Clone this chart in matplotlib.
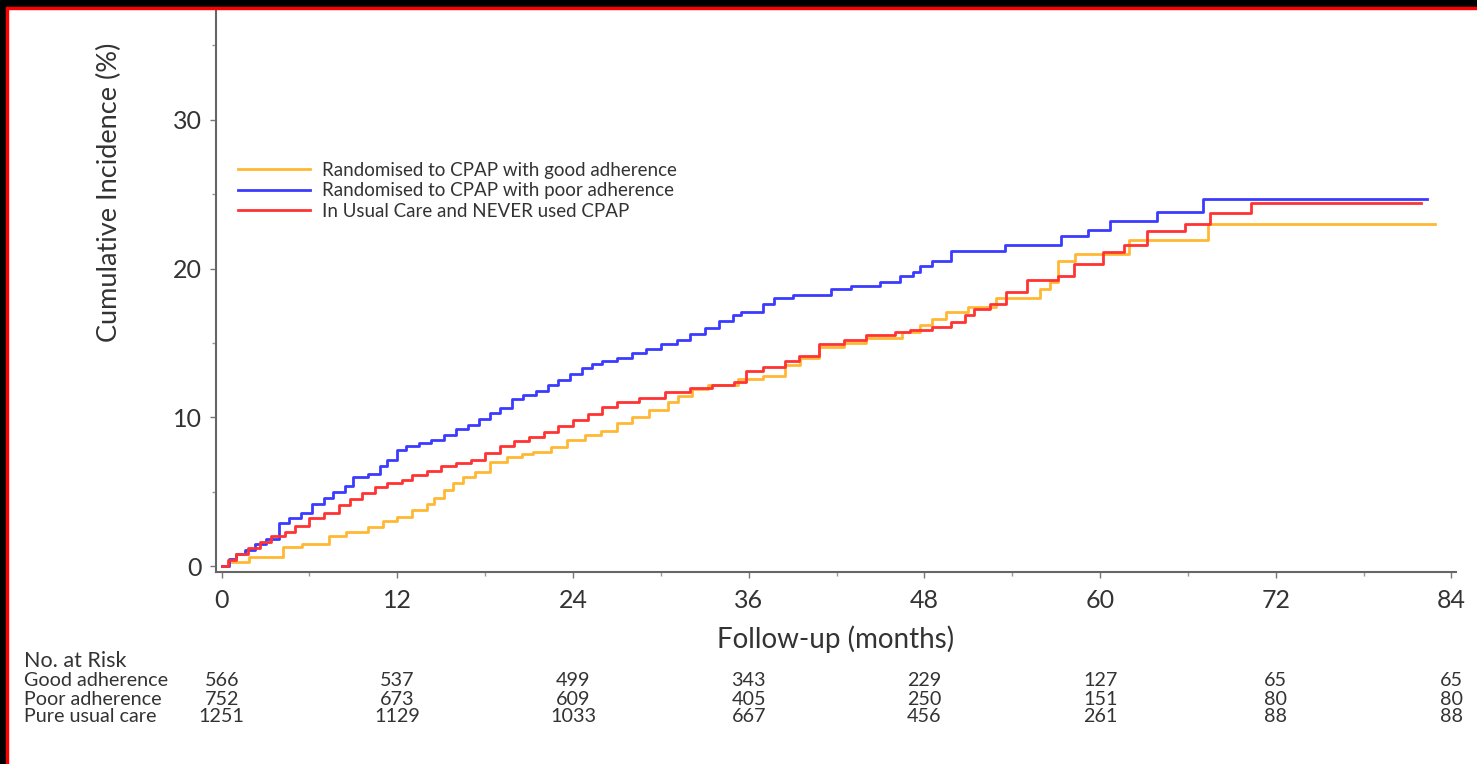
import matplotlib
matplotlib.use("Agg")
import matplotlib.pyplot as plt
from matplotlib.patches import Rectangle

plt.rcParams['font.family'] = ['Lato', 'DejaVu Sans']

# cumulative incidence curves (months, %)
good_t = [0, 0.5, 1.9, 4.2, 5.5, 7.3, 8.5, 10.0, 11.0, 12.0, 13.0, 14.0, 14.5, 15.2, 15.8,
          16.5, 17.3, 18.3, 19.5, 20.5, 21.3, 22.5, 23.6, 24.8, 25.9, 27.0, 28.0, 29.2, 30.5,
          31.2, 32.1, 33.2, 35.3, 37.0, 38.5, 39.5, 40.8, 42.5, 44.0, 46.5, 47.7, 48.5, 49.5,
          51.0, 52.9, 55.9, 56.6, 57.1, 58.3, 62.0, 67.4, 82.9]
good_y = [0, 0.3, 0.6, 1.3, 1.5, 2.0, 2.3, 2.6, 3.0, 3.3, 3.8, 4.2, 4.6, 5.1, 5.6,
          6.0, 6.3, 7.0, 7.3, 7.5, 7.7, 8.0, 8.5, 8.8, 9.1, 9.6, 10.0, 10.5, 11.0,
          11.4, 11.9, 12.2, 12.6, 12.8, 13.5, 14.0, 14.7, 15.0, 15.3, 15.7, 16.2, 16.6, 17.1,
          17.4, 18.0, 18.6, 19.1, 20.5, 21.0, 21.9, 23.0, 23.0]

poor_t = [0, 0.5, 1, 1.6, 2.3, 3.0, 3.9, 4.6, 5.4, 6.2, 7.0, 7.6, 8.4, 9.0, 10.0, 10.8,
          11.3, 12.0, 12.6, 13.5, 14.3, 15.2, 16.0, 16.8, 17.6, 18.3, 19.0, 19.8, 20.6, 21.5,
          22.3, 23.0, 23.8, 24.6, 25.3, 26.0, 27.0, 28.0, 29.0, 30.0, 31.1, 32.0, 33.0, 34.0,
          34.9, 35.5, 37.0, 37.7, 39.0, 41.6, 43.0, 45.0, 46.3, 47.2, 47.7, 48.5, 49.8, 53.5,
          57.3, 59.2, 60.7, 63.9, 67.0, 82.3]
poor_y = [0, 0.5, 0.8, 1.1, 1.5, 1.8, 2.9, 3.2, 3.6, 4.2, 4.6, 5.0, 5.4, 6.0, 6.2, 6.7,
          7.1, 7.8, 8.1, 8.3, 8.5, 8.8, 9.2, 9.5, 9.9, 10.3, 10.6, 11.2, 11.5, 11.8,
          12.2, 12.5, 12.9, 13.3, 13.6, 13.8, 14.0, 14.3, 14.6, 14.9, 15.2, 15.6, 16.0, 16.5,
          16.9, 17.1, 17.6, 18.0, 18.2, 18.6, 18.8, 19.1, 19.5, 19.8, 20.2, 20.5, 21.2, 21.6,
          22.2, 22.6, 23.2, 23.8, 24.7, 24.7]

usual_t = [0, 0.4, 1, 1.8, 2.6, 3.4, 4.3, 5.0, 6.0, 7.0, 8.0, 8.8, 9.6, 10.5, 11.3, 12.3,
           13.0, 14.0, 15.0, 16.0, 17.0, 18.0, 19.0, 20.0, 21.0, 22.0, 23.0, 24.0, 25.0, 26.0,
           27.0, 28.5, 30.3, 32.0, 33.5, 35.0, 35.8, 37.0, 38.5, 39.4, 40.8, 42.5, 44.0, 46.0,
           47.0, 48.5, 49.8, 50.8, 51.4, 52.5, 53.6, 55.0, 57.1, 58.2, 60.2, 61.6, 63.2, 65.8,
           67.5, 70.3, 81.9]
usual_y = [0, 0.4, 0.8, 1.2, 1.6, 2.0, 2.3, 2.7, 3.2, 3.6, 4.1, 4.5, 4.9, 5.3, 5.6, 5.8,
           6.1, 6.4, 6.7, 6.9, 7.1, 7.6, 8.1, 8.4, 8.7, 9.0, 9.4, 9.8, 10.2, 10.7,
           11.0, 11.3, 11.7, 12.0, 12.2, 12.4, 13.1, 13.4, 13.8, 14.1, 14.9, 15.2, 15.5, 15.7,
           15.9, 16.1, 16.4, 16.9, 17.3, 17.6, 18.4, 19.2, 19.5, 20.3, 21.1, 21.6, 22.5, 23.0,
           23.7, 24.4, 24.4]

labels = ["Randomised to CPAP with good adherence",
          "Randomised to CPAP with poor adherence",
          "In Usual Care and NEVER used CPAP"]

# numbers at risk
risk_months = [0, 12, 24, 36, 48, 60, 72, 84]
risk_rows = ["Good adherence", "Poor adherence", "Pure usual care"]
risk_good = [566, 537, 499, 343, 229, 127, 65, 65]
risk_poor = [752, 673, 609, 405, 250, 151, 80, 80]
risk_usual = [1251, 1129, 1033, 667, 456, 261, 88, 88]

txt = '#333333'
fig = plt.figure(figsize=(14.77, 7.64), dpi=100)
ax = fig.add_axes([0.1462, 0.2513, 0.8395, 0.737])

ax.plot(good_t, good_y, drawstyle='steps-post', color='#FFB833', lw=2, label=labels[0])
ax.plot(poor_t, poor_y, drawstyle='steps-post', color='#3B3BFF', lw=2, label=labels[1])
ax.plot(usual_t, usual_y, drawstyle='steps-post', color='#FF3333', lw=2, label=labels[2])

ax.set_xlim(-0.39, 84.3)
ax.set_ylim(-0.4, 37.45)
ax.set_xticks(risk_months)
ax.set_xticks(range(6, 84, 12), minor=True)
ax.set_yticks([0, 10, 20, 30])
ax.set_yticks([5, 15, 25, 35], minor=True)
ax.tick_params(axis='both', which='major', labelsize=18, colors='#777777', labelcolor=txt,
               length=4, width=1)
ax.tick_params(axis='both', which='minor', colors='#999999', length=3, width=1)
ax.tick_params(axis='x', pad=8)
ax.tick_params(axis='y', pad=6)
for s in ['top', 'right']:
    ax.spines[s].set_visible(False)
for s in ['left', 'bottom']:
    ax.spines[s].set_color('#666666')
    ax.spines[s].set_linewidth(1.5)

ax.set_xlabel("Follow-up (months)", fontsize=20, color=txt)
ax.xaxis.set_label_coords(0.5, -0.094)
ax.set_ylabel("Cumulative Incidence (%)", fontsize=19.5, color=txt, va='center')
ax.yaxis.set_label_coords(-0.0855, 0.675)

leg = ax.legend(loc='upper left', bbox_to_anchor=(0.0177, 0.729), frameon=False,
                fontsize=13.5, handlelength=3.84, handletextpad=0.64, labelspacing=0.2,
                borderpad=0, borderaxespad=0)
for t in leg.get_texts():
    t.set_color(txt)

# risk table
fig.text(0.0165, 0.135, "No. at Risk", fontsize=15.5, color=txt, va='center')
rows_y = [0.109, 0.085, 0.062]
for name, yy, vals in zip(risk_rows, rows_y, [risk_good, risk_poor, risk_usual]):
    fig.text(0.0165, yy, name, fontsize=14.2, color=txt, va='center')
    for m, v in zip(risk_months, vals):
        x_disp = ax.transData.transform((m, 0))[0]
        fig.text(x_disp / (fig.dpi * fig.get_figwidth()), yy, str(v), fontsize=14.2,
                 color=txt, ha='center', va='center')

# black frame with red edge on top and left
fig.patches.append(Rectangle((0, 1 - 7 / 764), 1, 7 / 764, transform=fig.transFigure,
                             color='black', zorder=10))
fig.patches.append(Rectangle((0, 0), 6 / 1477, 1, transform=fig.transFigure,
                             color='black', zorder=10))
fig.patches.append(Rectangle((6 / 1477, 0), 2 / 1477, 1 - 7 / 764, transform=fig.transFigure,
                             color='red', zorder=10))
fig.patches.append(Rectangle((6 / 1477, 1 - 9 / 764), 1, 2 / 764, transform=fig.transFigure,
                             color='red', zorder=10))

fig.savefig("out.png", dpi=100)
